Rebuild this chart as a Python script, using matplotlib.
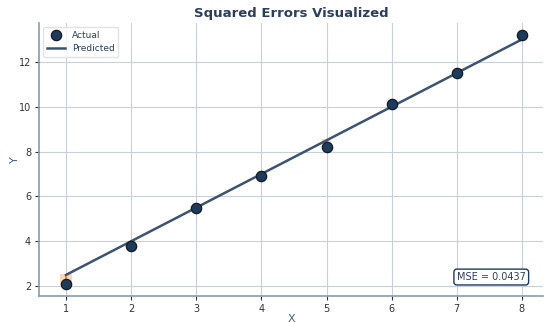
import matplotlib
matplotlib.use("Agg")
import matplotlib.pyplot as plt
from matplotlib.patches import Rectangle
import numpy as np

x_vals = [1, 2, 3, 4, 5, 6, 7, 8]
actual = [2.1, 3.8, 5.5, 6.9, 8.2, 10.1, 11.5, 13.2]
predicted = [2.5, 4.0, 5.5, 7.0, 8.5, 10.0, 11.5, 13.0]

navy = "#1f3b5c"
line_col = "#3d5372"
text_col = "#2b3f5c"
grid_col = "#c9d0da"
sq_col = "#f6b27a"
res_col = "#e8892f"

fig, ax = plt.subplots(figsize=(5.45, 3.23), dpi=100)
fig.subplots_adjust(left=0.071, right=0.997, top=0.93, bottom=0.083)

x = np.array(x_vals, dtype=float)
y = np.array(actual)
p = np.array(predicted)
res = y - p
mse = np.mean(res ** 2)

ax.plot(x, p, color=line_col, lw=1.8, zorder=3, label="Predicted")
ax.scatter(x, y, s=55, color=navy, edgecolor="#111a26", linewidth=0.9,
           zorder=5, label="Actual")

ax.set_xlim(0.58, 8.33)
ax.set_ylim(1.55, 13.75)
fig.canvas.draw()

# Each squared error drawn as a square built on the residual segment
bbox = ax.get_window_extent()
x0, x1 = ax.get_xlim()
y0, y1 = ax.get_ylim()
aspect = (bbox.height / (y1 - y0)) / (bbox.width / (x1 - x0))
for xi, yi, pi, ri in zip(x, y, p, res):
    side = abs(ri) * 1.3
    w = side * aspect
    mid = (yi + pi) / 2
    ax.add_patch(Rectangle((xi - w / 2, mid - side / 2), w, side,
                           facecolor=sq_col, alpha=0.5, edgecolor="none",
                           zorder=2))
    ax.plot([xi, xi], [yi, pi], color=res_col, lw=1.5, alpha=0.9, zorder=2.5)

ax.set_xticks(x_vals)
ax.set_yticks([2, 4, 6, 8, 10, 12])
ax.grid(True, color=grid_col, lw=0.8)
ax.set_axisbelow(True)
for s in ["top", "right"]:
    ax.spines[s].set_visible(False)
for s in ["left", "bottom"]:
    ax.spines[s].set_color("#8a9ab0")
    ax.spines[s].set_linewidth(1.2)
ax.tick_params(labelsize=7, colors="#333333", length=3, pad=2.5)

ax.set_title("Squared Errors Visualized", fontsize=9.5, fontweight="bold",
             color=text_col, pad=4)
ax.set_xlabel("X", fontsize=8, color="#4a5f80", labelpad=0)
ax.set_ylabel("Y", fontsize=8, color="#4a5f80", labelpad=-1)

handles, labels = ax.get_legend_handles_labels()
leg = ax.legend(handles[::-1], labels[::-1], loc="upper left", fontsize=6.5,
                frameon=True, borderpad=0.4, handlelength=2.0,
                labelcolor=text_col)
leg.get_frame().set_edgecolor("#dddddd")

ax.text(0.965, 0.07, f"MSE = {mse:.4f}", transform=ax.transAxes,
        ha="right", va="center", fontsize=7, color=text_col,
        bbox=dict(boxstyle="round,pad=0.3", facecolor="white",
                  edgecolor=navy, linewidth=1.0))

fig.savefig("out.png", dpi=100)
